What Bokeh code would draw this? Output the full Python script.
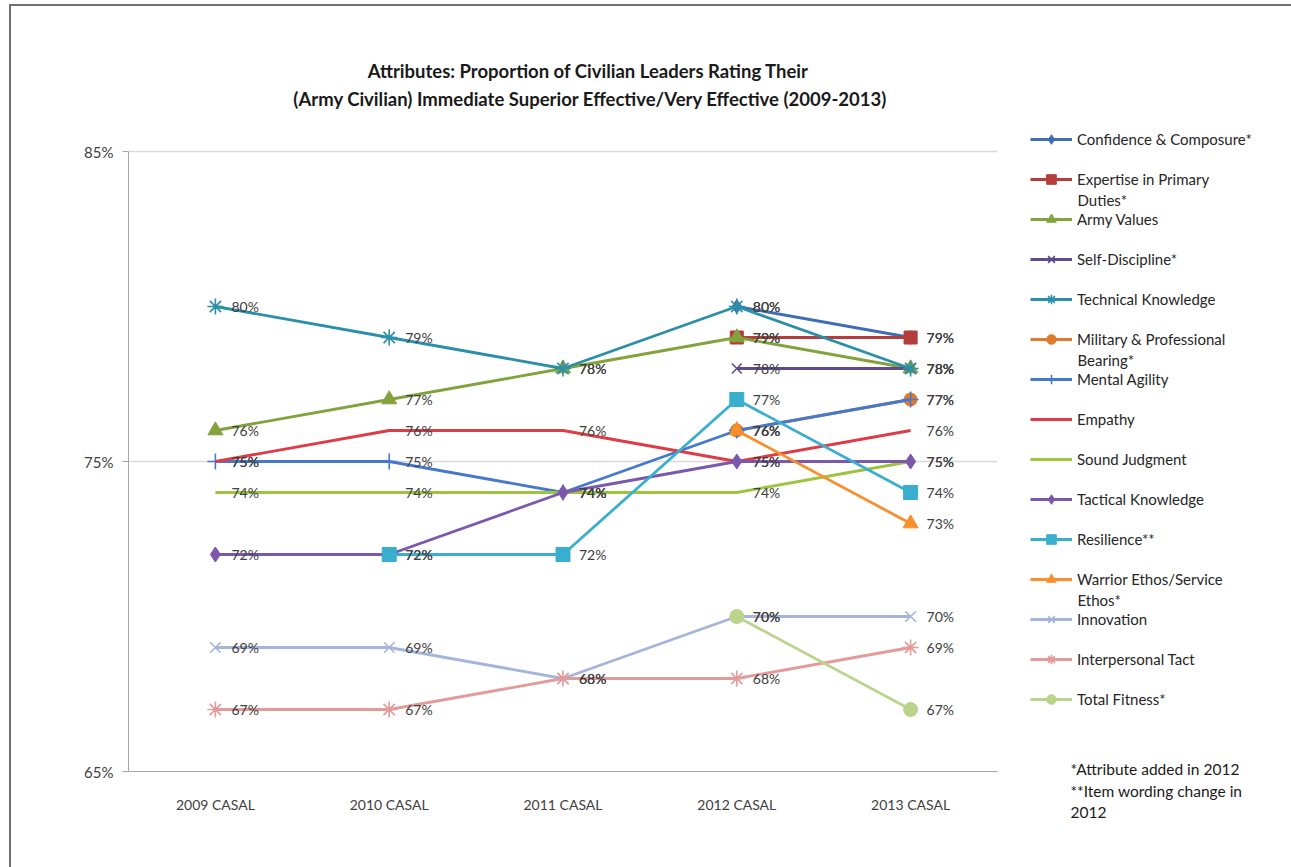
from bokeh.plotting import figure
from bokeh.layouts import row
from bokeh.models import (ColumnDataSource, FactorRange, Range1d, FixedTicker,
                          PrintfTickFormatter, Legend, LegendItem, Label)
from bokeh.embed import file_html
from bokeh.resources import INLINE
from bokeh.core.properties import value

# ---------------- data ----------------
years = ["2009 CASAL", "2010 CASAL", "2011 CASAL", "2012 CASAL", "2013 CASAL"]

confidence = [None, None, None, 80, 79]
expertise = [None, None, None, 79, 79]
army_values = [76, 77, 78, 79, 78]
self_discipline = [None, None, None, 78, 78]
technical = [80, 79, 78, 80, 78]
military = [None, None, None, 76, 77]
mental_agility = [75, 75, 74, 76, 77]
empathy = [75, 76, 76, 75, 76]
sound_judgment = [74, 74, 74, 74, 75]
tactical = [72, 72, 74, 75, 75]
resilience = [None, 72, 72, 77, 74]
warrior = [None, None, None, 76, 73]
innovation = [69, 69, 68, 70, 70]
tact = [67, 67, 68, 68, 69]
total_fitness = [None, None, None, 70, 67]

y_ticks = [65, 75, 85]

title_lines = ["Attributes:  Proportion of Civilian Leaders Rating Their",
               "(Army Civilian) Immediate Superior Effective/Very Effective (2009-2013)"]
notes = ["*Attribute added in 2012", "**Item wording change in", "2012"]

# (legend lines, values, color, marker, marker size)
series = [
    (["Confidence & Composure*"], confidence, "#3E6DB5", "diamond", 14),
    (["Expertise in Primary", "Duties*"], expertise, "#B43C3A", "square", 13),
    (["Army Values"], army_values, "#82A33C", "triangle", 15),
    (["Self-Discipline*"], self_discipline, "#5F4A8C", "x", 14),
    (["Technical Knowledge"], technical, "#2B8FAA", "asterisk", 16),
    (["Military & Professional", "Bearing*"], military, "#E07A2C", "circle", 13),
    (["Mental Agility"], mental_agility, "#4479CC", "cross", 16),
    (["Empathy"], empathy, "#DE3B46", None, 0),
    (["Sound Judgment"], sound_judgment, "#9CC43C", None, 0),
    (["Tactical Knowledge"], tactical, "#7C57AE", "diamond", 15),
    (["Resilience**"], resilience, "#3AAECF", "square", 14),
    (["Warrior Ethos/Service", "Ethos*"], warrior, "#F78F2A", "triangle", 15),
    (["Innovation"], innovation, "#A4B4DD", "x", 15),
    (["Interpersonal Tact"], tact, "#E29A9B", "asterisk", 16),
    (["Total Fitness*"], total_fitness, "#BAD48B", "circle", 14),
]

FONT = "Lato"

# ---------------- page geometry (page pixels) ----------------
OX, OY = 11, 6                       # content origin (margin + border)
FL, FR, FB = 128, 997, 771           # main frame left/right/bottom
Y85 = 151                            # page y of the 85% line
SPLIT = 1000                         # page x where the legend figure starts
PX_PER_PCT = (FB - Y85) / 20.0

H = 867 - OY
W_MAIN = SPLIT - OX
W_LEG = 1291 - SPLIT

y_top = 65 + (FB - OY) / PX_PER_PCT   # frame reaches to the top of the canvas

p = figure(width=W_MAIN, height=H, x_range=FactorRange(factors=years, range_padding=0),
           y_range=Range1d(65, y_top), output_backend="svg", toolbar_location=None,
           min_border_left=FL - OX, min_border_top=0,
           min_border_right=SPLIT - FR, min_border_bottom=867 - FB)
p.frame_align = False
p.outline_line_color = None
p.background_fill_color = "white"
p.border_fill_color = "white"

p.xgrid.grid_line_color = None
p.ygrid.ticker = FixedTicker(ticks=y_ticks)
p.ygrid.grid_line_color = "#D9D9D9"
p.ygrid.grid_line_width = 1.5

p.yaxis.ticker = FixedTicker(ticks=y_ticks)
p.yaxis.bounds = (65, 85)
p.yaxis.formatter = PrintfTickFormatter(format="%d%%")
p.yaxis.axis_line_color = "#A6A6A6"
p.yaxis.major_tick_line_color = "#A6A6A6"
p.yaxis.major_tick_out = 6
p.yaxis.major_tick_in = 0
p.yaxis.minor_tick_line_color = None
p.yaxis.major_label_standoff = 9
p.yaxis.major_label_text_font = FONT
p.yaxis.major_label_text_font_size = "15px"
p.yaxis.major_label_text_color = "#404040"

p.xaxis.axis_line_color = "#A6A6A6"
p.xaxis.major_tick_line_color = None
p.xaxis.major_label_standoff = 18
p.xaxis.major_label_text_font = FONT
p.xaxis.major_label_text_font_size = "14px"
p.xaxis.major_label_text_color = "#404040"

# legend figure: its frame covers the whole right part; data lies outside its y range
rf = figure(width=W_LEG, height=H, x_range=FactorRange(factors=years, range_padding=0),
            y_range=Range1d(1000, 1001), output_backend="svg", toolbar_location=None,
            x_axis_location=None, y_axis_location=None, min_border=0)
rf.frame_align = False
rf.outline_line_color = None
rf.grid.visible = False
rf.background_fill_color = "white"
rf.border_fill_color = "white"


def add_series(fig, src, color, marker, size):
    rends = [fig.line("x", "y", source=src, line_color=color, line_width=2.8)]
    if marker is not None:
        if marker in ("x", "asterisk", "cross"):
            rends.append(fig.scatter("x", "y", source=src, marker=marker, size=size,
                                     line_color=color, line_width=1.6))
        else:
            rends.append(fig.scatter("x", "y", source=src, marker=marker, size=size,
                                     fill_color=color, line_color=color))
    return rends


legend_items = []
label_sources = []
for lines, vals, color, marker, size in series:
    xs = [yr for yr, v in zip(years, vals) if v is not None]
    ys = [v for v in vals if v is not None]
    src = ColumnDataSource(dict(x=xs, y=ys, label=[f"{v}%" for v in ys]))
    label_sources.append(src)
    add_series(p, src, color, marker, size)
    rends = add_series(rf, src, color, marker, size)
    legend_items.append(LegendItem(label=lines[0], renderers=rends))

for src in label_sources:
    p.text("x", "y", text="label", source=src, x_offset=16, text_baseline="middle",
           text_align="left", text_font=value(FONT), text_font_size="14px",
           text_color="#404040")

# title (inside the main frame, above the plotted area)
for i, t in enumerate(title_lines):
    p.add_layout(Label(x=590 - FL, y=FB - (70 + 28 * i), x_units="screen", y_units="screen",
                       text=t, text_font=FONT, text_font_style="bold",
                       text_font_size="18.5px", text_color="#1a1a1a",
                       text_align="center", text_baseline="middle"))


def lx(x):
    return x - SPLIT


def ly(y):
    return 867 - y


# legend: items 40px apart, first centred at page y=139
GH, GAP = 24, 16
n_items = len(legend_items)
leg_h = n_items * GH + (n_items - 1) * GAP
legend = Legend(items=legend_items, location=(lx(1030), ly(139 - GH / 2 + leg_h)),
                glyph_width=42, glyph_height=GH, label_height=GH, spacing=GAP,
                padding=0, margin=0, label_standoff=5,
                border_line_color=None, background_fill_alpha=0,
                label_text_font=FONT, label_text_font_size="15px",
                label_text_color="#262626")
rf.add_layout(legend)

for i, (lines, *_rest) in enumerate(series):
    if len(lines) > 1:
        yc = 139 + 40 * i + 20
        rf.add_layout(Label(x=lx(1077), y=ly(yc), x_units="screen", y_units="screen",
                            text=lines[1], text_font=FONT, text_font_size="15px",
                            text_color="#262626", text_baseline="middle"))

for i, t in enumerate(notes):
    rf.add_layout(Label(x=lx(1070), y=ly(768 + 22 * i), x_units="screen", y_units="screen",
                        text=t, text_font=FONT, text_font_size="15.5px",
                        text_color="#1a1a1a", text_baseline="middle"))

layout = row(p, rf, spacing=0,
             styles={"margin-left": "9px", "margin-top": "4px",
                     "border-top": "2px solid #707070", "border-left": "2px solid #707070"})

open("out.html", "w").write(file_html(layout, INLINE))
